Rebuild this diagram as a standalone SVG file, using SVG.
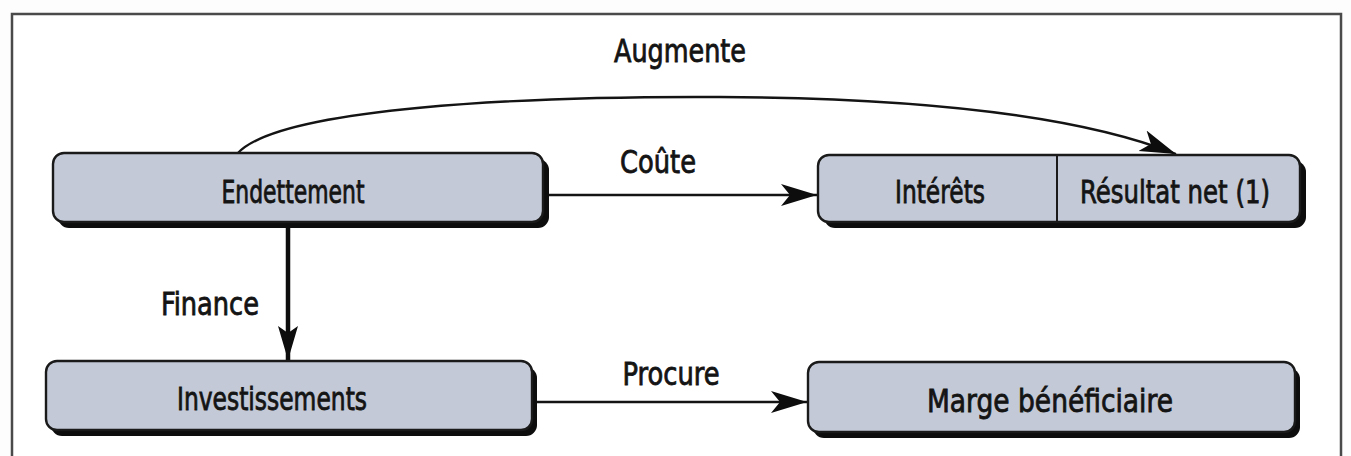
<svg xmlns="http://www.w3.org/2000/svg" width="1351" height="456" viewBox="0 0 1351 456">
<style>
  .box { fill: #c3c9d6; stroke: #1a1a1a; stroke-width: 2.4; }
  .shadow { fill: #0d0d0d; }
  .lbl { font-family: "DejaVu Sans", "Liberation Sans", sans-serif; font-stretch: condensed; font-size: 32px; fill: #141414; stroke: #141414; stroke-width: 0.8; text-anchor: middle; }
  .conn { fill: none; stroke: #141414; stroke-width: 2.4; }
  .thick { fill: none; stroke: #0d0d0d; stroke-width: 4.5; }
</style>
<defs>
  <marker id="ah" markerUnits="userSpaceOnUse" markerWidth="38" markerHeight="24" refX="36" refY="11" orient="auto" viewBox="0 0 38 24">
    <path d="M0,0 L36,11 L0,22 L9,11 z" fill="#0d0d0d"/>
  </marker>
  <marker id="ahv" markerUnits="userSpaceOnUse" markerWidth="36" markerHeight="22" refX="34" refY="10" orient="auto" viewBox="0 0 36 22">
    <path d="M0,0 L34,10 L0,20 L7,10 z" fill="#0d0d0d"/>
  </marker>
</defs>
<rect x="0" y="0" width="1351" height="456" fill="#fdfdfd"/>
<rect x="12" y="14" width="1329" height="470" fill="#ffffff" stroke="#4a4a4a" stroke-width="2.5"/>

<g id="connectors">
  <path class="conn" d="M238,153 C280,108 520,96 720,97 C930,98 1080,116 1176,154" marker-end="url(#ah)"/>
  <line class="conn" x1="545" y1="195" x2="817" y2="195" marker-end="url(#ah)"/>
  <line class="thick" x1="288" y1="226" x2="288" y2="360" marker-end="url(#ahv)"/>
  <line class="conn" x1="535" y1="402" x2="807" y2="402" marker-end="url(#ah)"/>
  <text class="lbl" x="680" y="62" textLength="132" lengthAdjust="spacingAndGlyphs">Augmente</text>
  <text class="lbl" x="658" y="173" textLength="76" lengthAdjust="spacingAndGlyphs">Coûte</text>
  <text class="lbl" x="210" y="315" textLength="98" lengthAdjust="spacingAndGlyphs">Finance</text>
  <text class="lbl" x="671" y="385" textLength="97" lengthAdjust="spacingAndGlyphs">Procure</text>
</g>

<g id="endettement">
  <rect class="shadow" x="58" y="159" width="491" height="69" rx="11"/>
  <rect class="box" x="53" y="153" width="490" height="69" rx="11"/>
  <text class="lbl" x="293" y="203" textLength="143" lengthAdjust="spacingAndGlyphs">Endettement</text>
</g>

<g id="interets-resultat">
  <rect class="shadow" x="824" y="161" width="482" height="67" rx="11"/>
  <rect class="box" x="818" y="155" width="482" height="67" rx="11"/>
  <line x1="1057" y1="155" x2="1057" y2="222" stroke="#1a1a1a" stroke-width="2"/>
  <text class="lbl" x="940" y="203" textLength="90" lengthAdjust="spacingAndGlyphs">Intérêts</text>
  <text class="lbl" x="1175" y="203" textLength="190" lengthAdjust="spacingAndGlyphs">Résultat net (1)</text>
</g>

<g id="investissements">
  <rect class="shadow" x="51" y="367" width="486" height="69" rx="11"/>
  <rect class="box" x="46" y="361" width="486" height="69" rx="11"/>
  <text class="lbl" x="272" y="410" textLength="190" lengthAdjust="spacingAndGlyphs">Investissements</text>
</g>

<g id="marge">
  <rect class="shadow" x="813" y="368" width="487" height="70" rx="11"/>
  <rect class="box" x="808" y="362" width="487" height="70" rx="11"/>
  <text class="lbl" x="1050" y="412" textLength="246" lengthAdjust="spacingAndGlyphs">Marge bénéficiaire</text>
</g>
</svg>
